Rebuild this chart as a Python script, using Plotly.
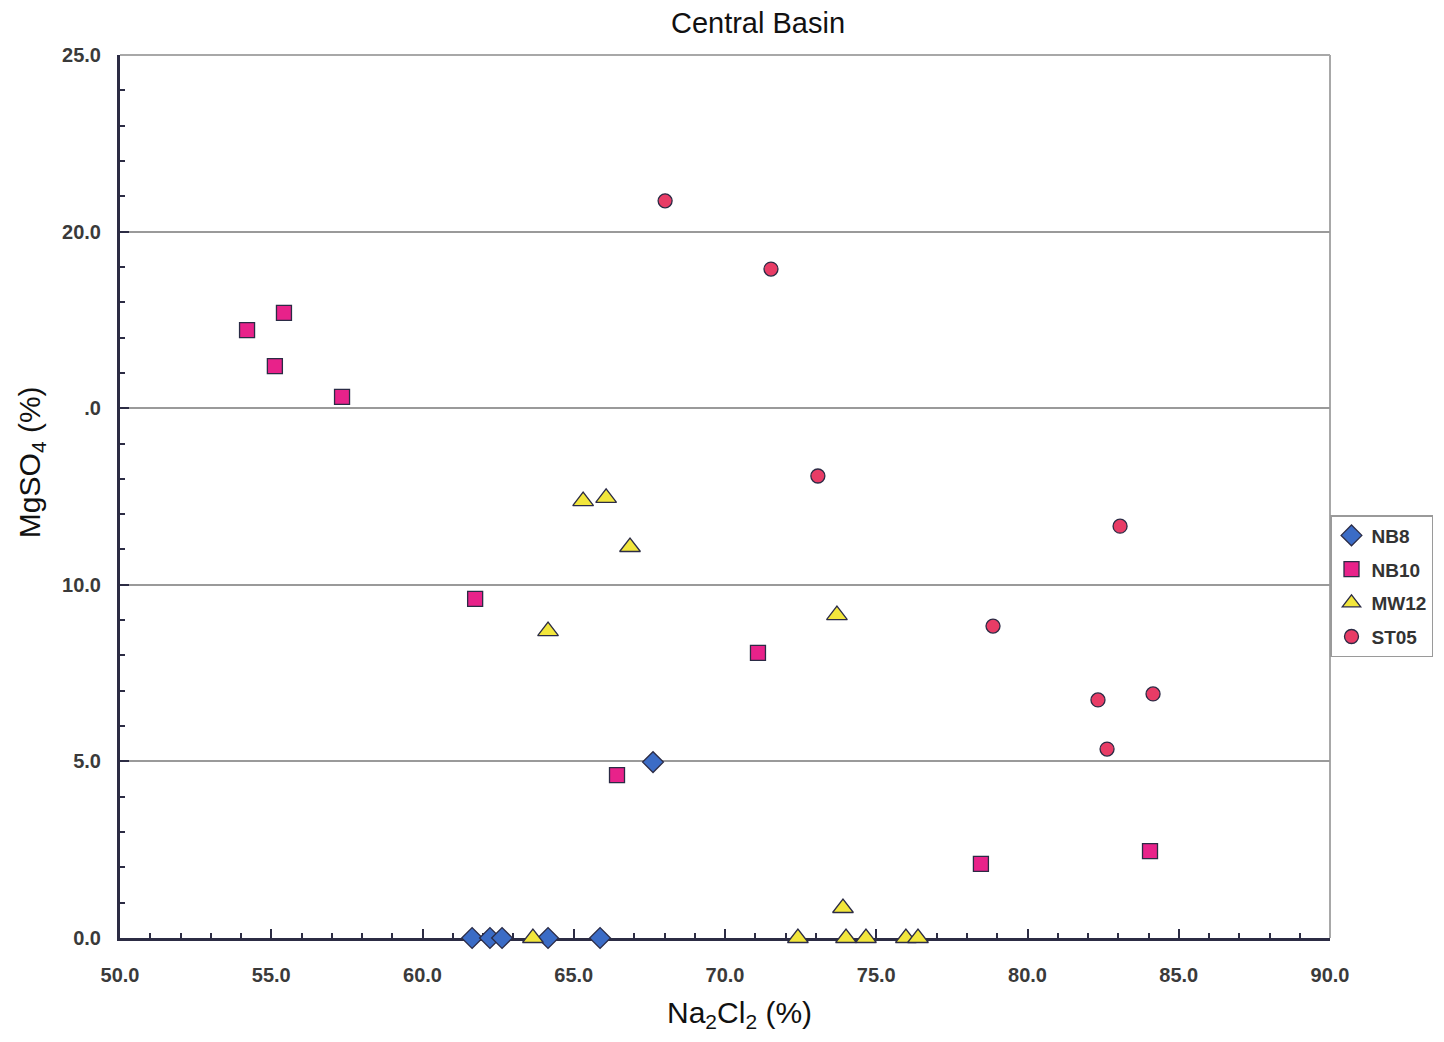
import plotly.graph_objects as go

# ---- data ----
nb8_x = [61.64, 62.23, 62.63, 64.15, 65.87, 67.62]
nb8_y = [0.0, 0.0, 0.0, 0.0, 0.0, 4.98]

nb10_x = [54.20, 55.42, 55.12, 57.34, 61.74, 66.43, 71.09, 78.46, 84.05]
nb10_y = [17.21, 17.70, 16.19, 15.32, 9.60, 4.61, 8.07, 2.10, 2.46]

mw12_x = [65.31, 66.07, 66.86, 64.15, 73.70, 73.90, 63.65, 72.41, 74.00, 74.66, 75.98, 76.38]
mw12_y = [12.37, 12.46, 11.07, 8.69, 9.14, 0.85, 0.0, 0.0, 0.0, 0.0, 0.0, 0.0]

st05_x = [68.02, 71.52, 73.07, 83.06, 78.86, 82.33, 84.15, 82.63]
st05_y = [20.87, 18.94, 13.08, 11.66, 8.83, 6.74, 6.91, 5.35]

x_ticks = [50, 55, 60, 65, 70, 75, 80, 85, 90]
x_tick_text = ["50.0", "55.0", "60.0", "65.0", "70.0", "75.0", "80.0", "85.0", "90.0"]
y_ticks = [0, 5, 10, 15, 20, 25]
y_tick_text = ["0.0", "5.0", "10.0", ".0", "20.0", "25.0"]

fig = go.Figure()

series = [
    ("NB8", nb8_x, nb8_y, "diamond", "#3b6cc6", 16),
    ("NB10", nb10_x, nb10_y, "square", "#e8228a", 15),
    ("MW12", mw12_x, mw12_y, "triangle-up", "#f2e63c", 18),
    ("ST05", st05_x, st05_y, "circle", "#e83c66", 14),
]
for name, xs, ys, sym, col, sz in series:
    fig.add_trace(go.Scatter(
        x=xs, y=ys, mode="markers", name=name, cliponaxis=False,
        legendgroup=name,
        marker=dict(symbol=sym, color=col, size=sz,
                    line=dict(color="#2b2b45", width=1.3)),
    ))

axis_col = "#2c2c44"
fig.update_xaxes(
    range=[50, 90], tickvals=x_ticks, ticktext=x_tick_text,
    showline=True, linecolor=axis_col, linewidth=3,
    ticks="inside", ticklen=9, tickwidth=2, tickcolor=axis_col,
    minor=dict(dtick=1, ticks="inside", ticklen=5, tickwidth=2, tickcolor=axis_col),
    showgrid=False, zeroline=False, layer="below traces", automargin=False,
    tickfont=dict(family="Arial", size=20, color="#3a3a3a", weight="bold"),
    ticklabelstandoff=17,
)
fig.update_yaxes(
    range=[0, 25], tickvals=y_ticks, ticktext=y_tick_text,
    showline=True, linecolor=axis_col, linewidth=3,
    ticks="inside", ticklen=9, tickwidth=2, tickcolor=axis_col,
    minor=dict(dtick=1, ticks="inside", ticklen=5, tickwidth=2, tickcolor=axis_col),
    showgrid=True, gridcolor="#9a9a9a", gridwidth=1.5,
    zeroline=False, layer="below traces", automargin=False,
    tickfont=dict(family="Arial", size=20, color="#3a3a3a", weight="bold"),
    ticklabelstandoff=12,
)

# top and right border of the plot area
fig.add_shape(type="line", xref="paper", yref="paper", x0=0, x1=1, y0=1, y1=1,
              line=dict(color="#a8a8a8", width=2), layer="below")
fig.add_shape(type="line", xref="paper", yref="paper", x0=1, x1=1, y0=0, y1=1,
              line=dict(color="#a8a8a8", width=2), layer="below")

# axis titles
fig.add_annotation(text="Na<sub>2</sub>Cl<sub>2</sub> (%)", xref="paper", yref="paper",
                   x=0.512, y=-0.087, xanchor="center", yanchor="middle", showarrow=False,
                   font=dict(family="Arial", size=30, color="#111"))
fig.add_annotation(text="MgSO<sub>4</sub> (%)", xref="paper", yref="paper",
                   x=-0.0735, y=0.539, xanchor="center", yanchor="middle", showarrow=False,
                   textangle=-90, font=dict(family="Arial", size=30, color="#111"))

fig.update_layout(
    width=1436, height=1034,
    margin=dict(l=112, r=114, t=47, b=104, autoexpand=False),
    paper_bgcolor="white", plot_bgcolor="white",
    title=dict(text="Central Basin", x=(758 - 8) / 1436, xanchor="center",
               y=1 - (23 - 8) / 1034, yanchor="middle",
               font=dict(family="Arial", size=29, color="#111")),
    legend=dict(x=1.0, y=0.479, xanchor="left", yanchor="top",
                bordercolor="#9a9a9a", borderwidth=1.5, bgcolor="white",
                font=dict(family="Arial", size=19, color="#333", weight="bold"),
                itemwidth=30, tracegroupgap=6),
    showlegend=True,
)

fig.write_html("out.html")
